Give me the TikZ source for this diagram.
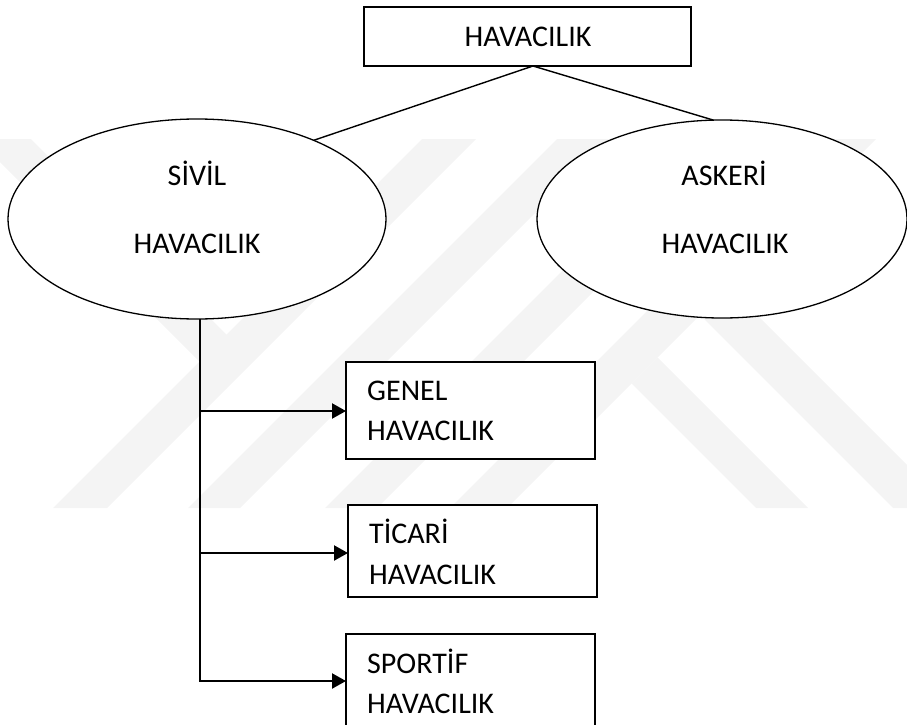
\documentclass[tikz,border=0pt]{standalone}
\usepackage{fontspec}
\setmainfont{Carlito}
\usetikzlibrary{shapes.geometric,arrows.meta}
\definecolor{wmark}{gray}{0.955}
\begin{document}
\begin{tikzpicture}[x=1pt,y=-1pt,
  lbl/.style={anchor=base, inner sep=0pt, font=\fontsize{30}{36}\selectfont},
  boxlbl/.style={lbl, anchor=base west},
  rectbox/.style={draw, fill=white, line width=1.8pt, inner sep=0pt, outer sep=0pt},
  oval/.style={ellipse, draw, fill=white, line width=1.3pt, inner sep=0pt, outer sep=0pt},
  link/.style={line width=1.4pt},
  feed/.style={line width=2.2pt},
  arrowfeed/.style={feed, -{Triangle[length=14pt,width=15pt]}},
  band/.style={fill=wmark, draw=none}]
\useasboundingbox (0,0) rectangle (907,725);

% faint background emblem made of diagonal bands
\fill[band] (-23,139) -- (31,139) -- (226.5,334.5) -- (226.5,388.5) -- cycle;
\fill[band] (422,139) -- (476,139) -- (107,508) -- (53,508) -- cycle;
\fill[band] (557,139) -- (609,139) -- (240,508) -- (188,508) -- cycle;
\fill[band] (694,139) -- (746,139) -- (377,508) -- (325,508) -- cycle;
\fill[band] (819,139) -- (876,139) -- (507,508) -- (450,508) -- cycle;
\fill[band] (631.5,383.5) -- (657.5,357.5) -- (808,508) -- (756,508) -- cycle;
\fill[band] (615,230) -- (672,230) -- (950,508) -- (893,508) -- cycle;

% root box
\node[rectbox, minimum width=327pt, minimum height=59pt] (top) at (527.5,36.5) {};
\node[lbl] (top-text) at (528,47) {HAVACILIK};

% the two branches
\node[oval, minimum width=378pt, minimum height=200pt] (sivil) at (197,219) {};
\node[lbl] (sivil-l1) at (197,185) {SİVİL};
\node[lbl] (sivil-l2) at (197,253) {HAVACILIK};

\node[oval, minimum width=370pt, minimum height=198pt] (askeri) at (722,219) {};
\node[lbl] (askeri-l1) at (724,185) {ASKERİ};
\node[lbl] (askeri-l2) at (725,253) {HAVACILIK};

\coordinate (root-joint) at (533,66);
\draw[link] (root-joint) -- (sivil.34);
\draw[link] (root-joint) -- (askeri.95);

% sub-categories of civil aviation
\node[rectbox, minimum width=249pt, minimum height=97pt] (genel) at (470.5,410.5) {};
\node[boxlbl] (genel-l1) at (367,400) {GENEL};
\node[boxlbl] (genel-l2) at (367,440) {HAVACILIK};

\node[rectbox, minimum width=249pt, minimum height=92pt] (ticari) at (472.5,551) {};
\node[boxlbl] (ticari-l1) at (369,543) {TİCARİ};
\node[boxlbl] (ticari-l2) at (369,584) {HAVACILIK};

\node[rectbox, minimum width=249pt, minimum height=111pt] (sportif) at (470.5,689.5) {};
\node[boxlbl] (sportif-l1) at (367,673) {SPORTİF};
\node[boxlbl] (sportif-l2) at (367,713) {HAVACILIK};

% trunk and feeders
\coordinate (j1) at (200,411);
\coordinate (j2) at (200,553);
\coordinate (j3) at (200,681);
\draw[feed] (sivil.south -| j1) -- (j3);
\draw[arrowfeed] (j1) -- (j1 -| genel.west);
\draw[arrowfeed] (j2) -- (j2 -| ticari.west);
\draw[arrowfeed] ([xshift=-1.1pt]j3) -- (j3 -| sportif.west);
\end{tikzpicture}
\end{document}
